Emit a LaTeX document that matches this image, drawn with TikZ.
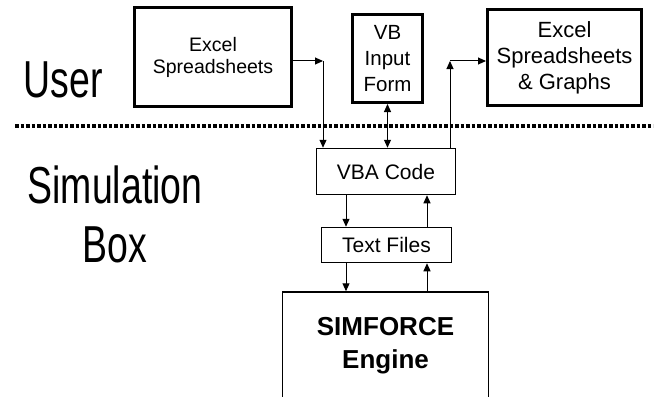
\documentclass[tikz,border=0pt]{standalone}
\usepackage{fontspec}
\setmainfont{Liberation Sans}
\usetikzlibrary{arrows.meta}

\begin{document}
\begin{tikzpicture}[x=1pt, y=-1pt,
    box/.style={draw, line width=1.5pt, inner sep=0pt, align=center},
    userbox/.style={box, line width=3pt},
    link/.style={line width=1pt, -{Triangle[length=8pt,width=7pt]}},
    twoway/.style={line width=1pt, {Triangle[length=8pt,width=7pt]}-{Triangle[length=8pt,width=7pt]}},
    side/.style={font=\fontsize{52pt}{59pt}\selectfont, xscale=0.72, anchor=base, align=center}]
  \useasboundingbox (0,0) rectangle (658,396);
  \node[side] (user) at (63,97) {User};
  \node[side] (sim) at (115,262) {Simulation\\Box};
  \draw[line width=3.2pt, dash pattern=on 3.5pt off 2pt] (15,126) -- (653,126);
  \node[userbox, minimum width=157pt, minimum height=98pt,
    font=\fontsize{19.5pt}{22pt}\selectfont] (xls) at (213,57) {Excel\\Spreadsheets};
  \node[userbox, minimum width=70pt, minimum height=88pt,
    font=\fontsize{20.5pt}{26pt}\selectfont] (vbform) at (387.5,58.5) {VB\\Input\\Form};
  \node[userbox, minimum width=154pt, minimum height=96pt,
    font=\fontsize{22pt}{26pt}\selectfont] (xlsout) at (564.5,57.5) {Excel\\Spreadsheets\\\& Graphs};
  \node[box, minimum width=139pt, minimum height=46pt,
    font=\fontsize{21pt}{25pt}\selectfont] (vba) at (386,171.5) {VBA Code};
  \node[box, minimum width=130pt, minimum height=35pt,
    font=\fontsize{21pt}{25pt}\selectfont] (txt) at (386.5,245) {Text Files};
  \node[box, minimum width=206pt, minimum height=108pt,
    font=\fontsize{26pt}{33pt}\selectfont\bfseries] (engine) at (385.5,346) {SIMFORCE\\Engine};
  \coordinate (c1) at (323,61);
  \coordinate (c2) at (450,61);
  \coordinate (dn) at (346,0);
  \coordinate (up) at (427,0);
  \draw[link] (xls.east |- c1) -- (c1);
  \draw[link] (c1) -- (c1 |- vba.north);
  \draw[twoway] (vbform.south) -- (vbform.south |- vba.north);
  \draw[link] (c2 |- vba.north) -- (c2);
  \draw[link] (c2) -- (xlsout.west |- c2);
  \draw[link] (vba.south -| dn) -- (txt.north -| dn);
  \draw[link] (txt.north -| up) -- (vba.south -| up);
  \draw[link] (txt.south -| dn) -- (engine.north -| dn);
  \draw[link] (engine.north -| up) -- (txt.south -| up);
\end{tikzpicture}
\end{document}
